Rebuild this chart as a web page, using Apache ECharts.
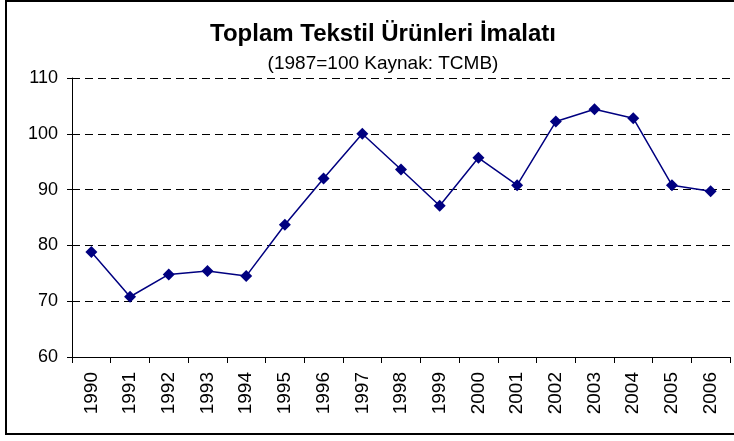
<!DOCTYPE html>
<html>
<head>
<meta charset="utf-8">
<script src="https://cdn.jsdelivr.net/npm/echarts@6.0.0/dist/echarts.min.js"></script>
<style>
  html, body { margin: 0; padding: 0; background: #fff; }
  #chart { width: 734px; height: 441px; }
</style>
</head>
<body>
<div id="chart"></div>
<script>
// yillar ve endeks degerleri (1987=100)
var years = ['1990', '1991', '1992', '1993', '1994', '1995', '1996', '1997', '1998',
  '1999', '2000', '2001', '2002', '2003', '2004', '2005', '2006'];
var imalat = [78.8, 70.8, 74.8, 75.4, 74.5, 83.7, 92.0, 100.0, 93.6,
  87.1, 95.7, 90.8, 102.2, 104.4, 102.8, 90.8, 89.7];

var yMin = 60;
var yMax = 110;
var yStep = 10;

var chart = echarts.init(document.getElementById('chart'));

var option = {
  backgroundColor: '#fff',
  animation: false,
  title: {
    text: 'Toplam Tekstil Ürünleri İmalatı',
    subtext: '(1987=100 Kaynak: TCMB)',
    left: 378,
    textAlign: 'center',
    top: 17,
    itemGap: 8,
    textStyle: {
      fontFamily: 'Liberation Sans, Arial',
      fontWeight: 'bold',
      fontSize: 24,
      color: '#000'
    },
    subtextStyle: {
      fontFamily: 'Liberation Sans, Arial',
      fontSize: 19,
      color: '#000'
    }
  },
  grid: {
    left: 72,
    right: 4,
    top: 78,
    bottom: 84
  },
  xAxis: {
    type: 'category',
    data: years,
    boundaryGap: true,
    axisLine: { lineStyle: { color: '#000', width: 1 } },
    axisTick: { show: true, length: 6, lineStyle: { color: '#000' } },
    axisLabel: {
      rotate: 90,
      margin: 15,
      interval: 0,
      fontFamily: 'Liberation Sans, Arial',
      fontSize: 19,
      color: '#000'
    },
    splitLine: { show: false }
  },
  yAxis: {
    type: 'value',
    min: yMin,
    max: yMax,
    interval: yStep,
    axisLine: { show: true, lineStyle: { color: '#000', width: 1 } },
    axisTick: { show: true, length: 5, lineStyle: { color: '#000' } },
    axisLabel: {
      margin: 14,
      fontFamily: 'Liberation Sans, Arial',
      fontSize: 18,
      color: '#000'
    },
    splitLine: {
      show: true,
      lineStyle: { color: '#000', width: 1, type: [8, 5] }
    }
  },
  series: [
    {
      type: 'line',
      data: imalat,
      symbol: 'diamond',
      symbolSize: 12,
      showAllSymbol: true,
      lineStyle: { color: '#000080', width: 1.5 },
      itemStyle: { color: '#000080' }
    }
  ],
  graphic: [
    {
      type: 'rect',
      shape: { x: 6, y: 1, width: 740, height: 433 },
      style: { fill: 'none', stroke: '#000', lineWidth: 2 },
      silent: true
    }
  ]
};

chart.setOption(option);
</script>
</body>
</html>
